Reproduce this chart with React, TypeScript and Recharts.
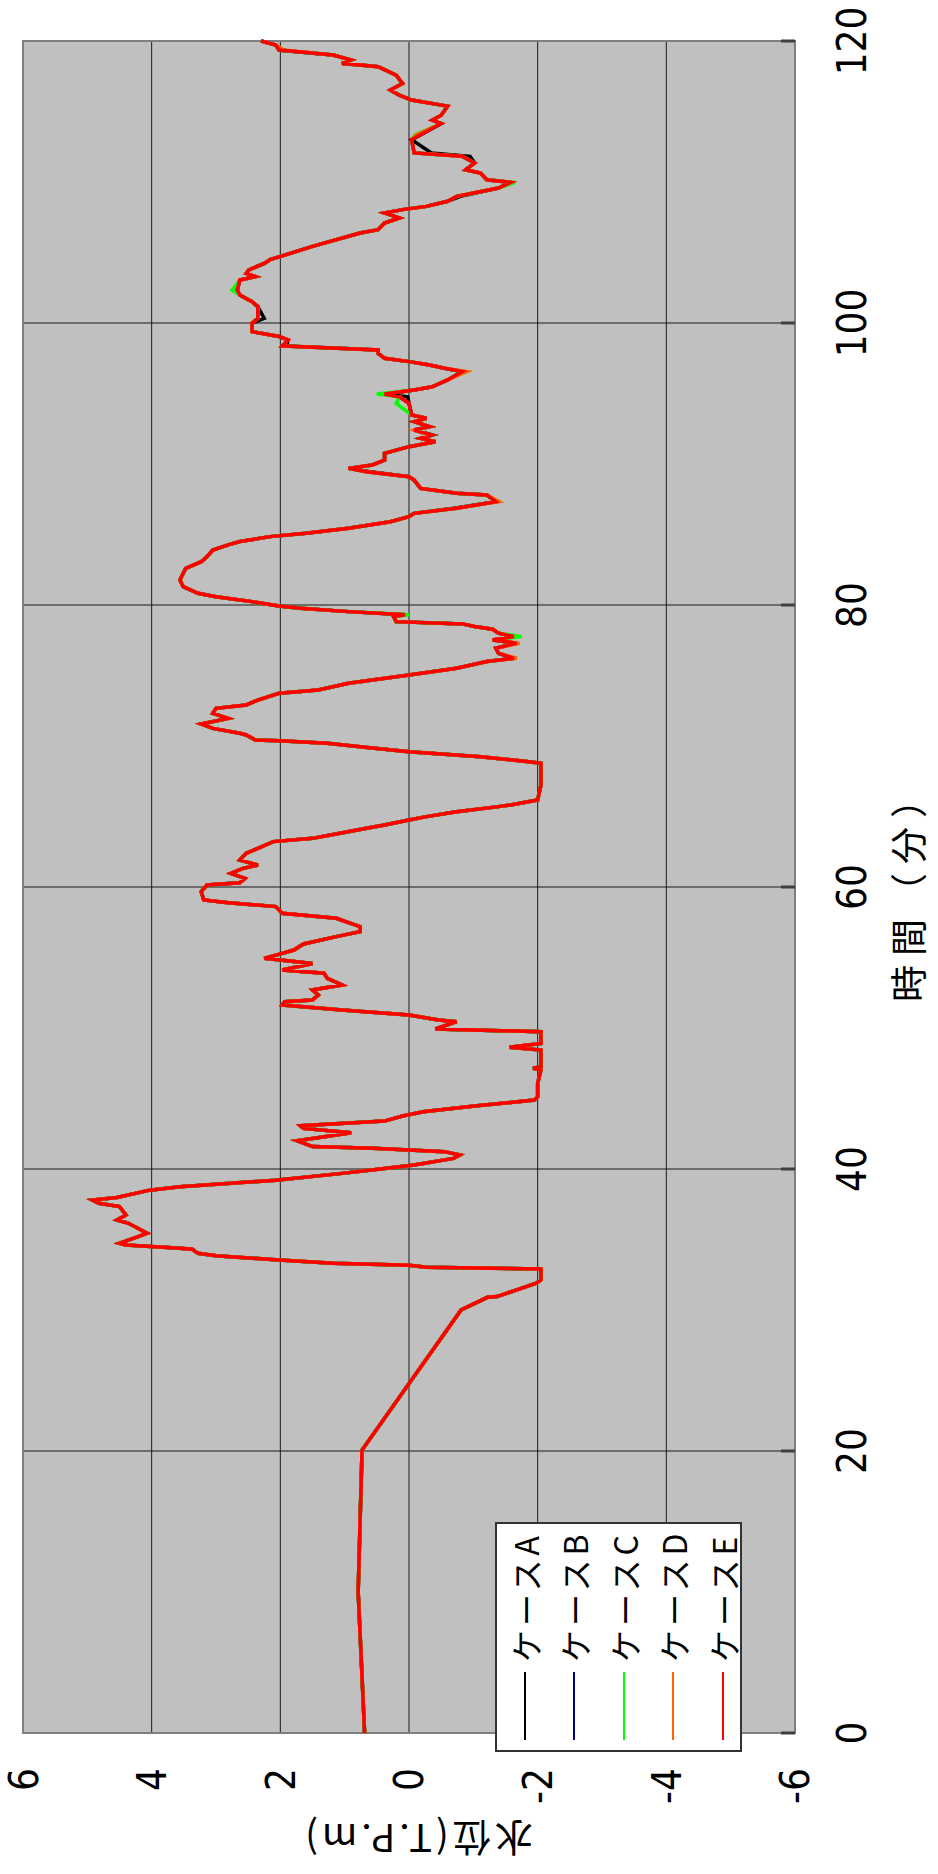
import { LineChart, Line, XAxis, YAxis, CartesianGrid, Legend, ReferenceArea, Label } from "recharts";

// time (minutes) and water level for ケースE; the other cases follow E except where they show
const timeMin = [
  0, 10, 20.07, 30.0, 30.9, 30.95, 31.9, 32.13, 32.91, 33.03, 33.17, 33.31, 33.55, 33.85, 34.02, 34.31, 34.38, 34.61, 34.73,
  35.2, 35.45, 36.15, 36.38, 36.74, 37.33, 37.57, 37.8, 37.98, 38.5, 38.74, 39.21, 39.69, 40.04, 40.28, 40.75, 40.99, 41.23,
  41.35, 41.47, 41.59, 42.01, 42.17, 42.57, 42.88, 43.07, 43.4, 43.76, 44.06, 44.46, 44.89, 45.13, 46.07, 47.02, 47.14, 47.26,
  48.44, 48.63, 48.91, 49.74, 49.93, 50.45, 50.57, 50.92, 51.28, 51.63, 51.87, 51.99, 52.34, 52.7, 53.05, 53.52, 53.88, 54.11,
  54.58, 54.94, 55.29, 55.53, 55.96, 56.48, 56.83, 57.19, 57.78, 58.13, 58.61, 58.89, 59.08, 59.67, 60.14, 60.3, 60.61, 60.97,
  61.32, 61.56, 61.91, 62.39, 62.74, 63.22, 63.45, 63.69, 64.16, 64.4, 64.75, 64.99, 65.34, 65.7, 65.82, 66.17, 67.23, 68.77,
  68.89, 69.24, 69.6, 69.95, 70.19, 70.38, 70.43, 70.78, 70.9, 71.25, 71.56, 71.96, 72.32, 72.67, 72.91, 73.26, 73.74, 73.97,
  74.45, 75.04, 75.51, 75.99, 76.22, 76.58, 76.93, 77.29, 77.52, 77.76, 78.0, 78.28, 78.47, 78.66, 78.82, 79.18, 79.3, 79.53,
  79.77, 79.93, 80.24, 80.59, 80.83, 81.3, 81.77, 82.25, 82.6, 83.07, 83.43, 83.9, 84.26, 84.5, 84.85, 85.09, 85.44, 85.91,
  86.27, 86.5, 86.86, 87.33, 87.8, 87.92, 88.27, 88.86, 89.1, 89.45, 89.69, 89.93, 90.28, 90.76, 91.23, 91.58, 91.82, 92.06,
  92.41, 92.65, 93.0, 93.24, 93.48, 94.3, 94.77, 94.96, 95.25, 95.48, 95.96, 96.55, 96.79, 97.02, 97.26, 97.5, 97.85, 98.09,
  98.37, 98.8, 99.04, 99.39, 99.98, 100.33, 101.16, 101.51, 101.99, 102.34, 103.05, 103.29, 103.52, 103.76, 104.23, 104.49,
  105.43, 106.38, 106.62, 107.09, 107.45, 107.8, 108.04, 108.27, 108.63, 108.98, 109.57, 109.97, 110.16, 110.64, 110.87,
  111.35, 111.82, 112.06, 113.0, 113.36, 114.15, 114.39, 114.74, 115.38, 115.81, 116.16, 116.52, 116.99, 117.58, 118.18,
  118.29, 118.41, 118.65, 119.0, 119.36, 119.72, 120.0,
];

const caseE = [
  0.69, 0.79, 0.73, -0.81, -1.22, -1.37, -1.98, -2.05, -2.05, -0.27, 0.0, 1.18, 2.02, 3.0, 3.28, 3.37, 3.56, 4.4, 4.5,
  4.21, 4.07, 4.36, 4.54, 4.4, 4.5, 4.82, 4.92, 4.54, 4.03, 3.56, 2.07, 1.04, 0.38, -0.08, -0.69, -0.79, -0.55,
  0.0, 0.57, 1.5, 1.74, 1.5, 0.9, 1.64, 1.69, 0.38, 0.1, -0.22, -1.02, -1.95, -2.0, -2.0, -2.05, -1.93, -2.05,
  -2.05, -1.56, -2.05, -2.05, -0.41, -0.74, -0.46, 0.0, 1.04, 1.97, 1.93, 1.5, 1.41, 1.5, 1.04, 1.27, 1.32, 1.97,
  1.5, 2.25, 1.97, 1.79, 1.64, 1.13, 0.76, 0.76, 1.13, 1.97, 2.07, 2.81, 3.19, 3.23, 3.14, 2.63, 2.55, 2.77,
  2.58, 2.35, 2.63, 2.53, 2.35, 2.11, 1.5, 1.22, 0.66, 0.38, 0.0, -0.27, -0.74, -1.39, -1.58, -2.0, -2.05, -2.05,
  -1.86, -1.11, 0.0, 0.76, 1.27, 2.02, 2.39, 2.53, 2.63, 3.05, 3.23, 2.81, 3.05, 3.0, 2.53, 2.35, 2.02, 1.41,
  0.94, 0.0, -0.74, -1.21, -1.63, -1.39, -1.35, -1.67, -1.3, -1.63, -1.39, -1.3, -1.02, -0.83, 0.2, 0.24, 0.06, 0.94,
  1.69, 2.02, 2.44, 3.0, 3.28, 3.51, 3.56, 3.51, 3.47, 3.23, 3.14, 3.05, 2.81, 2.63, 2.16, 1.6, 0.94, 0.29,
  0.0, -0.08, -0.74, -1.35, -1.21, -0.74, -0.18, -0.08, 0.0, 0.66, 0.94, 0.57, 0.38, 0.38, 0.0, -0.41, -0.18, -0.36,
  -0.08, -0.32, -0.08, -0.27, -0.04, 0.0, 0.15, 0.38, -0.08, -0.36, -0.6, -0.83, -0.55, -0.32, 0.0, 0.38, 0.48, 0.48,
  1.97, 1.88, 2.02, 2.44, 2.44, 2.35, 2.35, 2.44, 2.63, 2.67, 2.63, 2.39, 2.53, 2.49, 2.25, 2.16,
  1.5, 0.76, 0.48, 0.38, 0.15, 0.38, 0.1, -0.27, -0.6, -0.74, -1.39, -1.58, -1.21, -1.11, -0.88,
  -1.02, -0.83, -0.08, -0.04, -0.18, -0.5, -0.36, -0.5, -0.6, -0.04, 0.15, 0.29, 0.1, 0.2, 0.48,
  0.76, 1.04, 0.9, 1.18, 2.02, 2.07, 2.3,
];

// [time, level] where a case departs visibly from ケースE
const caseAPoints: [number, number][] = [
  [86.86, -0.7], [89.45, 0.6], [94.77, 0.02], [98.37, 1.9], [100.33, 2.25], [108.98, -0.8], [111.82, -0.95], [112.06, -0.35],
];
const caseBPoints: [number, number][] = [[109.97, -1.6]];
const caseCPoints: [number, number][] = [
  [77.76, -1.75], [79.3, 0.0], [94.3, 0.2], [94.96, 0.5], [102.34, 2.75], [109.97, -1.65], [113.36, -0.1],
];
const caseDPoints: [number, number][] = [
  [76.22, -1.68], [77.29, -1.72], [87.33, -1.4], [92.06, -0.3], [96.55, -0.9], [113.36, -0.12], [119.36, 1.95],
];

const timeTicks = [0, 20, 40, 60, 80, 100, 120];
const levelTicks = [-6, -4, -2, 0, 2, 4, 6];

const series = [
  { key: "A", name: "ケースA", color: "#000000" },
  { key: "B", name: "ケースB", color: "#000080" },
  { key: "C", name: "ケースC", color: "#00ff00" },
  { key: "D", name: "ケースD", color: "#ff6600" },
  { key: "E", name: "ケースE", color: "#ff0000" },
];

const pick = (points: [number, number][], t: number, fallback: number) => {
  const hit = points.find((p) => p[0] === t);
  return hit ? hit[1] : fallback;
};

const rows = timeMin.map((t, i) => ({
  t,
  A: pick(caseAPoints, t, caseE[i]),
  B: pick(caseBPoints, t, caseE[i]),
  C: pick(caseCPoints, t, caseE[i]),
  D: pick(caseDPoints, t, caseE[i]),
  E: caseE[i],
}));

const W = 1874;
const H = 938;
const numFont = "'Liberation Sans Narrow', 'DejaVu Sans Condensed', Arial, sans-serif";
const jpFont = "'Noto Sans CJK JP', 'Noto Sans', sans-serif";

const LegendBox = () => (
  <div
    style={{
      width: 230,
      height: 247,
      boxSizing: "border-box",
      background: "#fff",
      border: "2px solid #333",
      paddingTop: 3,
    }}
  >
    {series.map((s) => (
      <div key={s.key} style={{ display: "flex", alignItems: "center", height: 49.5 }}>
        <div style={{ marginLeft: 10, width: 68, height: 2, background: s.color }} />
        <span style={{ marginLeft: 10, fontSize: 32, lineHeight: 1, letterSpacing: 4, fontFamily: jpFont, color: "#000" }}>
          {s.name}
        </span>
      </div>
    ))}
  </div>
);

const TimeTitle = (props: any) => {
  const vb = props.viewBox || { x: 141, y: 795, width: 1692, height: 143 };
  return (
    <text
      x={vb.x + vb.width / 2}
      y={vb.y + 112}
      textAnchor="middle"
      dominantBaseline="central"
      fontSize={37}
      letterSpacing={9}
      fontFamily={jpFont}
      fill="#000"
    >
      時間（分）
    </text>
  );
};

const LevelTitle = (props: any) => {
  const vb = props.viewBox || { x: 0, y: 23, width: 141, height: 772 };
  const cx = vb.x + 34;
  const cy = vb.y + vb.height / 2 + 8;
  return (
    <text x={cx} y={cy} transform={`rotate(-90, ${cx}, ${cy})`} textAnchor="middle" dominantBaseline="central" fontSize={38} letterSpacing={4} fontFamily={jpFont} fill="#000">
      水位(T.P.m)
    </text>
  );
};

export default function App() {
  return (
    <div style={{ position: "absolute", left: 0, top: 0, width: H, height: W, overflow: "hidden", background: "#fff" }}>
      <div style={{ width: W, height: H, transformOrigin: "0 0", transform: `translateY(${W}px) rotate(-90deg)` }}>
        <LineChart width={W} height={H} data={rows} margin={{ top: 23, right: 41, bottom: 0, left: 0 }}>
          <CartesianGrid fill="#c0c0c0" stroke="#1a1a1a" strokeWidth={1} />
          <XAxis
            dataKey="t"
            type="number"
            domain={[0, 120]}
            ticks={timeTicks}
            height={143}
            axisLine={false}
            tickLine={{ stroke: "#404040", strokeWidth: 3 }}
            tickSize={-14}
            tickMargin={57}
            tick={{ fontSize: 40, fontFamily: numFont, fill: "#000" }}
          >
            <Label content={TimeTitle} />
          </XAxis>
          <YAxis
            type="number"
            domain={[-6, 6]}
            ticks={levelTicks}
            width={141}
            axisLine={false}
            tickLine={false}
            tickSize={0}
            tickMargin={35}
            tick={{ fontSize: 40, fontFamily: numFont, fill: "#000" }}
          >
            <Label content={LevelTitle} />
          </YAxis>
          <ReferenceArea x1={0} x2={120} y1={-6} y2={6} fill="none" stroke="#7f7f7f" strokeWidth={2} />
          {series.map((s) => (
            <Line
              key={s.key}
              type="linear"
              dataKey={s.key}
              name={s.name}
              stroke={s.color}
              strokeWidth={3.5}
              dot={false}
              isAnimationActive={false}
            />
          ))}
          <Legend
            layout="horizontal"
            verticalAlign="middle"
            align="center"
            content={LegendBox}
            wrapperStyle={{ left: 122, top: 495, width: 230, height: 247 }}
          />
        </LineChart>
      </div>
    </div>
  );
}
